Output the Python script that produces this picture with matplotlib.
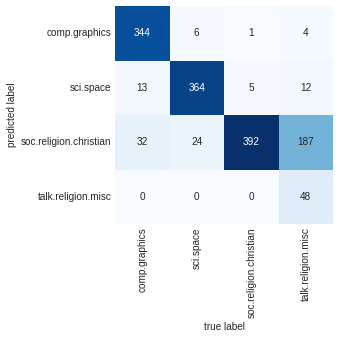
import matplotlib
matplotlib.use("Agg")
import matplotlib.pyplot as plt
import numpy as np
import seaborn as sns

sns.set_theme(style="white")
plt.rcParams["font.family"] = ["Liberation Sans", "DejaVu Sans"]

labels = ["comp.graphics", "sci.space", "soc.religion.christian", "talk.religion.misc"]
# rows: predicted label, columns: true label
mat_t = np.array([
    [344, 6, 1, 4],
    [13, 364, 5, 12],
    [32, 24, 392, 187],
    [0, 0, 0, 48],
])

fig = plt.figure(figsize=(339 / 72, 339 / 72), dpi=72)
ax = fig.add_axes([115 / 339, 1 - 224 / 339, 218 / 339, 218 / 339])
sns.heatmap(mat_t, square=True, annot=True, fmt="d", cbar=False, cmap="Blues",
            xticklabels=labels, yticklabels=labels, ax=ax,
            annot_kws={"fontsize": 10})
ax.tick_params(axis="both", length=0, labelsize=10, colors="#262626")
ax.set_xlabel("true label", fontsize=10, color="#262626")
ax.set_ylabel("predicted label", fontsize=10, color="#262626")
plt.setp(ax.get_xticklabels(), rotation=90)
plt.setp(ax.get_yticklabels(), rotation=0)

fig.savefig("out.png", dpi=72)
